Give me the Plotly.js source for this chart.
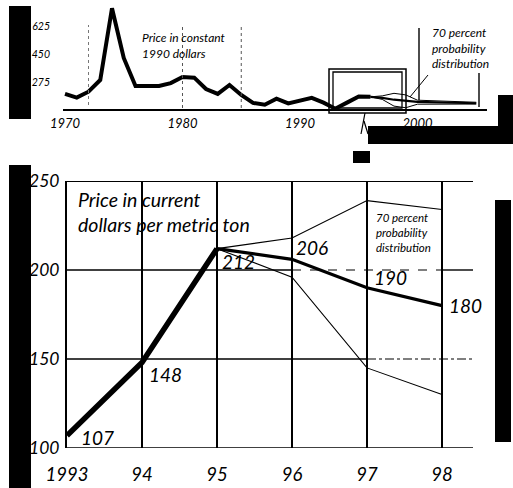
<!DOCTYPE html>
<html><head><meta charset="utf-8">
<script src="https://cdn.plot.ly/plotly-3.0.1.min.js"></script>
<style>html,body{margin:0;padding:0;background:#fff;} #chart{width:513px;height:488px;}</style>
</head><body><div id="chart"></div>
<script>
// ---------- bottom chart: price in current dollars per metric ton ----------
const yearsHist = [1993, 1994, 1995];
const priceHist = [107, 148, 212];
const yearsProj = [1995, 1996, 1997, 1998];
const priceProj = [212, 206, 190, 180];
const yearsUpper = [1995, 1996, 1997, 1998];
const priceUpper = [212, 218, 239, 234];
const yearsLower = [1995, 1995.75, 1996, 1997, 1998];
const priceLower = [212, 200, 196, 145, 130];
const labelYears = [1993, 1994, 1995, 1996, 1997, 1998];
const labelValues = [107, 148, 212, 206, 190, 180];
const bottomXTicks = [1993, 1994, 1995, 1996, 1997, 1998];
const bottomXLabels = ['1993', '94', '95', '96', '97', '98'];
const bottomYTicks = [100, 150, 200, 250];

// ---------- top chart: price in constant 1990 dollars ----------
const topYears = [1970,1971,1972,1973,1974,1975,1976,1977,1978,1979,1980,1981,1982,1983,1984,1985,1986,1987,1988,1989,1990,1991,1992,1993,1994,1995,1996];
const topPrice = [204,181,218,291,740,429,254,254,254,272,310,306,235,204,260,198,148,137,174,145,162,180,150,112,150,188,186];
const topProjYears = [1996, 1997, 1998, 1999, 2000, 2005];
const topMedian = [186, 180, 168, 160, 155, 146];
const topUpper  = [186, 192, 208, 198, 165, 152];
const topLower  = [186, 170, 128, 118, 140, 141];
const topXTicks = [1970, 1980, 1990, 2000];
const topYTicks = [275, 450, 625];

// ---------- helpers (pixel -> paper) ----------
const W = 513, H = 488;
const px = x => x / W;
const py = y => 1 - y / H;
const FONT = 'Lato, "DejaVu Sans", sans-serif';
const rect = (x0, y0, x1, y1, fill, lw) => ({type:'rect', xref:'paper', yref:'paper',
  x0:px(x0), x1:px(x1), y0:py(y1), y1:py(y0),
  fillcolor: fill || 'rgba(0,0,0,0)', line:{color:'black', width: lw === undefined ? 0 : lw}});
const pline = (x0, y0, x1, y1, w, dash) => ({type:'line', xref:'paper', yref:'paper',
  x0:px(x0), x1:px(x1), y0:py(y0), y1:py(y1), line:{color:'black', width:w || 1.2, dash: dash || 'solid'}});

const traces = [
  // bottom
  {x: yearsHist, y: priceHist, mode:'lines', line:{color:'black', width:5.5}, xaxis:'x', yaxis:'y'},
  {x: yearsUpper, y: priceUpper, mode:'lines', line:{color:'black', width:1.1}, xaxis:'x', yaxis:'y'},
  {x: yearsLower, y: priceLower, mode:'lines', line:{color:'black', width:1.1}, xaxis:'x', yaxis:'y'},
  {x: yearsProj, y: priceProj, mode:'lines', line:{color:'black', width:3.2}, xaxis:'x', yaxis:'y'},
  // top
  {x: topYears, y: topPrice, mode:'lines', line:{color:'black', width:4}, xaxis:'x2', yaxis:'y2'},
  {x: topProjYears, y: topUpper, mode:'lines', line:{color:'black', width:1}, xaxis:'x2', yaxis:'y2'},
  {x: topProjYears, y: topLower, mode:'lines', line:{color:'black', width:1}, xaxis:'x2', yaxis:'y2'},
  {x: topProjYears, y: topMedian, mode:'lines', line:{color:'black', width:2.2}, xaxis:'x2', yaxis:'y2'}
];

const labelShift = [[30,-2],[23,-12],[21,-13],[20,12],[23,10],[23,0]];
const annotations = labelYears.map((yr, i) => ({
  x: yr, y: labelValues[i], xref:'x', yref:'y', text: String(labelValues[i]),
  showarrow:false, xanchor:'center', yanchor:'middle',
  xshift: labelShift[i][0], yshift: labelShift[i][1],
  font:{family:FONT, size:19, color:'black', style:'italic'}
}));
annotations.push(
  {xref:'paper', yref:'paper', x:px(76), y:py(186), xanchor:'left', yanchor:'top', showarrow:false, align:'left',
   text:'Price in current<br>dollars per metric ton', font:{family:FONT, size:19.5, color:'black', style:'italic'}},
  {xref:'paper', yref:'paper', x:px(374), y:py(209), xanchor:'left', yanchor:'top', showarrow:false, align:'left',
   text:'70 percent<br>probability<br>distribution', font:{family:FONT, size:11.5, color:'black', style:'italic'}},
  {xref:'paper', yref:'paper', x:px(140), y:py(28), xanchor:'left', yanchor:'top', showarrow:false, align:'left',
   text:'Price in constant<br>1990 dollars', font:{family:FONT, size:12, color:'black', style:'italic'}},
  {xref:'paper', yref:'paper', x:px(430), y:py(23), xanchor:'left', yanchor:'top', showarrow:false, align:'left',
   text:'70 percent<br>probability<br>distribution', font:{family:FONT, size:12, color:'black', style:'italic'}}
);

const XEND = 1993 + 406 / 75;
const shapes = [
  // bottom horizontal rules
  {type:'line', xref:'x', yref:'y', x0:1993, x1:XEND, y0:250, y1:250, line:{color:'black', width:2}},
  {type:'line', xref:'x', yref:'y', x0:1993, x1:XEND, y0:100, y1:100, line:{color:'black', width:1.6}},
  {type:'line', xref:'x', yref:'y', x0:1993, x1:1997, y0:150, y1:150, line:{color:'black', width:1.4}},
  {type:'line', xref:'x', yref:'y', x0:1997, x1:XEND, y0:150, y1:150, line:{color:'black', width:1.1, dash:'dashdot'}},
  {type:'line', xref:'x', yref:'y', x0:1993, x1:1996, y0:200, y1:200, line:{color:'black', width:1.4}},
  {type:'line', xref:'x', yref:'y', x0:1996, x1:1998, y0:200, y1:200, line:{color:'black', width:1.1, dash:'dash'}},
  {type:'line', xref:'x', yref:'y', x0:1998, x1:XEND, y0:200, y1:200, line:{color:'black', width:1.4}},
  // top chart: highlighted box and markers
  rect(329, 69, 406, 113, null, 1.5),
  rect(333, 72, 402, 108, null, 1.3),
  pline(419, 28, 419, 100, 1.4),
  pline(479, 73, 479, 107, 1.4),
  pline(428, 75, 410, 97, 1),
  {type:'line', xref:'x2', yref:'paper', x0:1972, x1:1972, y0:py(105), y1:py(25), line:{color:'#777', width:1, dash:'dot'}},
  {type:'line', xref:'x2', yref:'paper', x0:1980, x1:1980, y0:py(108), y1:py(25), line:{color:'#555', width:1, dash:'dot'}},
  {type:'line', xref:'x2', yref:'paper', x0:1985, x1:1985, y0:py(108), y1:py(25), line:{color:'#555', width:1, dash:'dot'}},
  // pointer from box to enlargement
  pline(365, 113, 361, 134, 1.2),
  pline(364, 121, 368, 134, 1.2),
  // dark scan margins
  rect(9, 6, 31, 119, 'black'),
  rect(9, 165, 31, 488, 'black'),
  rect(495, 200, 511, 442, 'black'),
  rect(368, 126, 513, 144, 'black'),
  rect(498, 95, 513, 144, 'black'),
  rect(353, 151, 370, 163, 'black')
];

const layout = {
  width: W, height: H,
  margin: {l:0, r:0, t:0, b:0},
  paper_bgcolor:'white', plot_bgcolor:'rgba(0,0,0,0)',
  showlegend:false,
  font:{family:FONT, color:'black'},
  xaxis: {domain:[px(67), px(473)], range:[1993, XEND], tickvals:bottomXTicks, ticktext:bottomXLabels,
    showgrid:true, gridcolor:'black', gridwidth:1.4, zeroline:false, showline:false, ticks:'',
    ticklabelstandoff: 13, tickfont:{family:FONT, size:18.5, style:'italic', color:'black'}, anchor:'y'},
  yaxis: {domain:[py(448), py(181)], range:[100, 250], tickvals:bottomYTicks,
    showgrid:false, zeroline:false, showline:true, linecolor:'black', linewidth:2, ticks:'',
    ticklabelstandoff: 2, tickfont:{family:FONT, size:17.5, style:'italic', color:'black'}, anchor:'x'},
  xaxis2: {domain:[px(63), px(487)], range:[1970 - 2/11.75, 1970 + 422/11.75], tickvals:topXTicks,
    showgrid:false, zeroline:false, showline:true, linecolor:'black', linewidth:2, ticks:'',
    ticklabelstandoff: 1, tickfont:{family:FONT, size:13, style:'italic', color:'black'}, anchor:'y2'},
  yaxis2: {domain:[py(109), py(5)], range:[110, 760], tickvals:topYTicks,
    showgrid:false, zeroline:false, showline:false, ticks:'',
    ticklabelstandoff: 12, tickfont:{family:FONT, size:10.5, style:'italic', color:'black'}, anchor:'x2'},
  shapes: shapes,
  annotations: annotations
};

Plotly.newPlot('chart', traces, layout, {displayModeBar:false, staticPlot:true});
</script>
</body></html>
